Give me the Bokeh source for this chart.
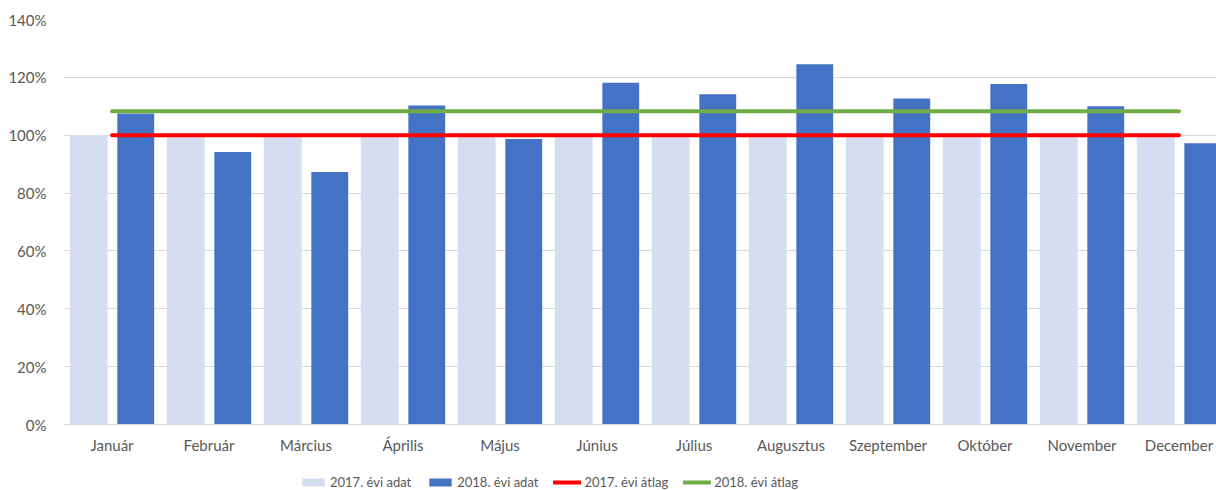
from bokeh.plotting import figure
from bokeh.layouts import column
from bokeh.models import (ColumnDataSource, Range1d, FixedTicker, NumeralTickFormatter,
                          Legend, LegendItem)
from bokeh.transform import dodge
from bokeh.embed import file_html
from bokeh.resources import INLINE

# ---- data ----
months = ["Január", "Február", "Március", "Április", "Május", "Június",
          "Július", "Augusztus", "Szeptember", "Október", "November", "December"]
data_2017 = [1.00] * 12
data_2018 = [1.075, 0.942, 0.873, 1.103, 0.987, 1.181,
             1.142, 1.245, 1.127, 1.177, 1.100, 0.972]
avg_2017 = 1.00
avg_2018 = 1.083
y_ticks = [0, 0.2, 0.4, 0.6, 0.8, 1.0, 1.2, 1.4]
legend_labels = ["2017. évi adat", "2018. évi adat", "2017. évi átlag", "2018. évi átlag"]

# ---- style ----
FONT = "Lato"
FS = "15px"
TXT = "#595959"
GRID = "#D9D9D9"
LIGHT = "#D4DEF0"
DARK = "#4472C4"
RED = "#FF0000"
GREEN = "#70AD47"

idx = list(range(len(months)))
src = ColumnDataSource(dict(
    x=idx,
    v17=data_2017,
    v18=data_2018,
    a17=[avg_2017] * len(months),
    a18=[avg_2018] * len(months),
))

W = 1216
H_MAIN, H_LEG = 462, 28
left, top = 63, 19
bottom = H_MAIN - 424
cat_px = 97.0
frame_w = W - left

p = figure(width=W, height=H_MAIN, output_backend="svg", toolbar_location=None,
           title=None,
           x_range=Range1d(-0.5, -0.5 + frame_w / cat_px),
           y_range=Range1d(0, 1.4),
           min_border_left=left, min_border_right=0,
           min_border_top=top, min_border_bottom=bottom)
p.outline_line_color = None
p.background_fill_color = "white"
p.border_fill_color = "white"

bar17 = dict(x=dodge("x", -0.24), top="v17", width=0.39, bottom=0,
             fill_color=LIGHT, line_color=None)
bar18 = dict(x=dodge("x", 0.245), top="v18", width=0.38, bottom=0,
             fill_color=DARK, line_color=None)
ln17 = dict(x="x", y="a17", line_color=RED, line_width=4, line_cap="round")
ln18 = dict(x="x", y="a18", line_color=GREEN, line_width=4, line_cap="round")

p.vbar(source=src, **bar17)
p.vbar(source=src, **bar18)
p.line(source=src, **ln17)
p.line(source=src, **ln18)

# axes
p.xaxis.ticker = FixedTicker(ticks=idx)
p.xaxis.major_label_overrides = {i: m for i, m in zip(idx, months)}
p.xaxis.axis_line_color = GRID
p.xaxis.major_tick_line_color = None
p.xaxis.minor_tick_line_color = None
p.xaxis.major_tick_out = 0
p.xaxis.major_label_standoff = 11
p.xaxis.major_label_text_font = FONT
p.xaxis.major_label_text_font_size = FS
p.xaxis.major_label_text_color = TXT

p.yaxis.ticker = FixedTicker(ticks=y_ticks)
p.yaxis.formatter = NumeralTickFormatter(format="0%")
p.yaxis.axis_line_color = None
p.yaxis.major_tick_line_color = None
p.yaxis.minor_tick_line_color = None
p.yaxis.major_tick_out = 0
p.yaxis.major_label_standoff = 17
p.yaxis.major_label_text_font = FONT
p.yaxis.major_label_text_font_size = FS
p.yaxis.major_label_text_color = TXT

p.xgrid.grid_line_color = None
p.ygrid.grid_line_color = GRID
p.ygrid.grid_line_width = 1

# ---- legend strip: a second figure below, same series/styles, data kept out of view ----
q = figure(width=W, height=H_LEG, output_backend="svg", toolbar_location=None,
           title=None, x_axis_location=None, y_axis_location=None,
           x_range=Range1d(-0.5, -0.5 + W / cat_px), y_range=Range1d(5, 6),
           min_border_left=0, min_border_right=0, min_border_top=0, min_border_bottom=0)
q.grid.visible = False
q.outline_line_color = None
q.background_fill_color = "white"
q.border_fill_color = "white"
d17 = q.vbar(source=src, **bar17)
d18 = q.vbar(source=src, **bar18)
e17 = q.line(source=src, **ln17)
e18 = q.line(source=src, **ln18)

legend = Legend(items=[
    LegendItem(label=legend_labels[0], renderers=[d17], index=0),
    LegendItem(label=legend_labels[1], renderers=[d18], index=0),
    LegendItem(label=legend_labels[2], renderers=[e17]),
    LegendItem(label=legend_labels[3], renderers=[e18]),
], orientation="horizontal", location=(236, 0),
    glyph_width=28, glyph_height=10, label_standoff=3, spacing=15,
    padding=0, margin=0, border_line_color=None, background_fill_alpha=0,
    label_text_font=FONT, label_text_font_size="13px", label_text_color=TXT,
    label_height=14)
q.add_layout(legend, "center")

layout = column(p, q, spacing=0)
open("out.html", "w").write(file_html(layout, INLINE))
